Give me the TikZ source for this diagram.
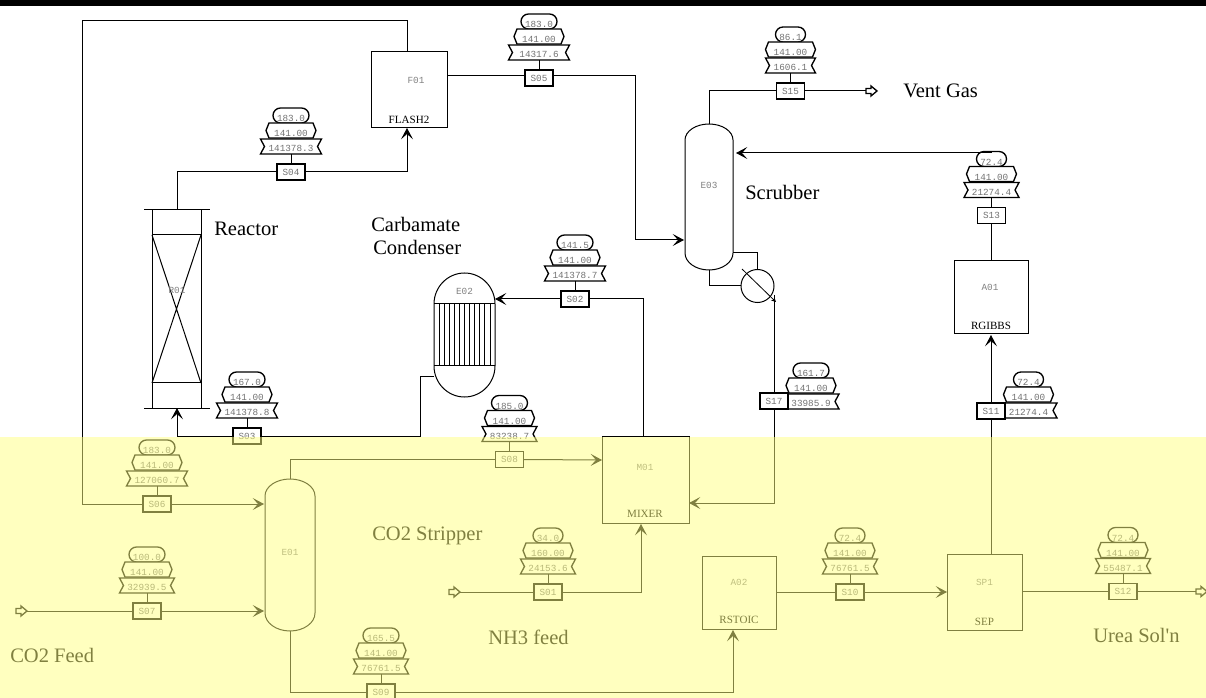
\documentclass[tikz,border=0pt]{standalone}
\usepackage{fontspec}
\setmainfont{Liberation Serif}
\newfontfamily\tagfont{Liberation Mono}
\newfontfamily\capfont{Liberation Serif}
\usetikzlibrary{arrows.meta,calc}
\definecolor{wash}{RGB}{255,255,128}
\tikzset{
  px/.style={x=0.75pt,y=-0.75pt},
  pipe/.style={draw=black,line width=0.75pt},
  flow/.style={pipe,-{Stealth[length=8.5pt,width=9pt,inset=4pt]}},
  eqbox/.style={draw=black,line width=0.75pt,fill=white,inner sep=0pt,outer sep=0pt,rectangle},
  streambox/.style={draw=black,line width=1.1pt,fill=white,inner sep=0pt,outer sep=0pt,rectangle,
     minimum width=21pt,minimum height=12pt,font=\tagfont\fontsize{7}{8}\selectfont,text=black!55},
  tagshape/.style={draw=black,line width=1pt,fill=white},
  tagtext/.style={inner sep=0pt,font=\tagfont\fontsize{7}{8}\selectfont,text=black!55},
  eqid/.style={inner sep=0pt,font=\tagfont\fontsize{7}{8}\selectfont,text=black!50},
  eqtype/.style={inner sep=0pt,font=\fontsize{8.3}{10}\selectfont},
  caption/.style={inner sep=0pt,anchor=west,font=\capfont\fontsize{15.4}{18}\selectfont},
  portarrow/.style={draw=black,line width=1pt,fill=white},
}
% name, centre x, banner bottom y, pill half width, T, P, banner half width, F
\newcommand{\stacklabels}[8]{%
  \draw[tagshape,rounded corners=5.6pt] ({#2-#4},{#3-46}) rectangle ({#2+#4},{#3-31});
  \draw[tagshape] ({#2-22},{#3-31}) -- ({#2+22},{#3-31}) -- ({#2+25},{#3-23.5}) -- ({#2+22},{#3-16})
     -- ({#2-22},{#3-16}) -- ({#2-25},{#3-23.5}) -- cycle;
  \draw[tagshape] ({#2-#7},{#3-15}) -- ({#2+#7},{#3-15}) -- ({#2+#7-4},{#3-7.5}) -- ({#2+#7},{#3})
     -- ({#2-#7},{#3}) -- ({#2-#7+4},{#3-7.5}) -- cycle;
  \node[tagtext] (#1T) at (#2,{#3-35.5}) {#5};
  \node[tagtext] (#1P) at (#2,{#3-20.5}) {#6};
  \node[tagtext] (#1F) at (#2,{#3-5.5}) {#8};
}
% name, x, y, label, pill hw, T, banner hw, F, P
\newcommand{\streamtag}[9]{%
  \stacklabels{#1}{#2}{#3-18}{#5}{#6}{#9}{#7}{#8}
  \node[streambox] (#1) at (#2,#3) {#4};
  \coordinate (#1top) at (#2,{#3-18});
  \draw[pipe] (#1.north) -- (#1top);
}
% name, xl, xr, top, shoulder top, shoulder bottom, bottom
\newcommand{\vessel}[7]{%
  \draw[line width=0.75pt,fill=white] (#2,#5)
    .. controls (#2,{#5-0.55*(#5-#4)}) and ({#2+0.45*(#3-#2)/2},#4) .. ({(#2+#3)/2},#4)
    .. controls ({#3-0.45*(#3-#2)/2},#4) and (#3,{#5-0.55*(#5-#4)}) .. (#3,#5)
    -- (#3,#6)
    .. controls (#3,{#6+0.55*(#7-#6)}) and ({#3-0.45*(#3-#2)/2},#7) .. ({(#2+#3)/2},#7)
    .. controls ({#2+0.45*(#3-#2)/2},#7) and (#2,{#6+0.55*(#7-#6)}) .. (#2,#6) -- cycle;
  \coordinate (#1top) at ({(#2+#3)/2},#4);
  \coordinate (#1bot) at ({(#2+#3)/2},#7);
}
% tail x, y
\newcommand{\portmark}[2]{%
  \draw[portarrow] (#1,{#2-2.5}) -- ({#1+5},{#2-2.5}) -- ({#1+5},{#2-5}) -- ({#1+11},#2)
     -- ({#1+5},{#2+5}) -- ({#1+5},{#2+2.5}) -- (#1,{#2+2.5}) -- cycle;
}
\begin{document}
\begin{tikzpicture}[px]
\useasboundingbox (0,0) rectangle (1206,698);
\clip (0,0) rectangle (1206,698);
\fill[white] (0,0) rectangle (1206,698);
\fill[black] (0,0) rectangle (1206,6);

% ---- equipment boxes
\node[eqbox,minimum width=57pt,minimum height=57pt] (f01) at (409,90) {};
\node[eqid] (f01id) at (416,80) {F01};
\node[eqtype] (f01ty) at (409,119.5) {FLASH2};

\node[eqbox,minimum width=55.5pt,minimum height=54.75pt] (a01) at (991,297.5) {};
\node[eqid] (a01id) at (990,287) {A01};
\node[eqtype] (a01ty) at (991,326) {RGIBBS};

\node[eqbox,minimum width=65.25pt,minimum height=65.25pt] (m01) at (645.5,479.5) {};
\node[eqid] (m01id) at (645,467) {M01};
\node[eqtype] (m01ty) at (645,514) {MIXER};

\node[eqbox,minimum width=55.5pt,minimum height=54.75pt] (a02) at (739,592.5) {};
\node[eqid] (a02id) at (739,582) {A02};
\node[eqtype] (a02ty) at (739,620) {RSTOIC};

\node[eqbox,minimum width=56.25pt,minimum height=57pt] (sp1) at (984.5,592) {};
\node[eqid] (sp1id) at (984.5,582) {SP1};
\node[eqtype] (sp1ty) at (984.5,622) {SEP};

% ---- reactor
\draw[line width=0.75pt] (152,210) rectangle (201,408);
\draw[line width=0.75pt] (144,210) -- (210,210) (144,408) -- (210,408);
\draw[line width=0.75pt] (152,235) rectangle (201,383);
\draw[line width=0.75pt] (152,235) -- (201,383) (201,235) -- (152,383);
\coordinate (r01top) at (177,210);
\coordinate (r01bot) at (177,408);
\node[eqid] (r01id) at (177,290) {R01};

% ---- columns
\vessel{e03}{685}{733}{124}{140}{253}{270}
\node[eqid] (e03id) at (709,185) {E03};
\vessel{e01}{265}{315}{479}{496}{613}{631}
\node[eqid] (e01id) at (290,552) {E01};

% ---- condenser
\vessel{e02}{434}{495}{273}{304}{366}{397}
\foreach \i in {1,...,11} {\draw[line width=0.6pt] ({434+\i*61/12},304) -- ({434+\i*61/12},366);}
\draw[line width=0.75pt] (434,304) -- (495,304) (434,366) -- (495,366);
\node[eqid] (e02id) at (464.5,291) {E02};

% ---- reboiler
\node[draw=black,line width=0.75pt,fill=white,circle,minimum size=24.75pt,inner sep=0pt,outer sep=0pt] (hx) at (757.5,286) {};

% ---- stream tags
\streamtag{s04}{291}{172}{S04}{18}{183.0}{30.5}{141378.3}{141.00}
\streamtag{s05}{539}{78}{S05}{18}{183.0}{30.5}{14317.6}{141.00}
\streamtag{s15}{790.5}{91}{S15}{15}{86.1}{25}{1606.1}{141.00}
\streamtag{s13}{991.5}{215.5}{S13}{15}{72.4}{27.5}{21274.4}{141.00}
\streamtag{s02}{575}{299}{S02}{18}{141.5}{30.5}{141378.7}{141.00}
\streamtag{s03}{247}{436}{S03}{18}{167.0}{30.5}{141378.8}{141.00}
\streamtag{s08}{509.5}{459.5}{S08}{18}{185.0}{27.5}{83238.7}{141.00}
\streamtag{s06}{157}{504}{S06}{18}{183.0}{30.5}{127060.7}{141.00}
\streamtag{s07}{147}{611}{S07}{18}{100.0}{27.5}{32939.5}{141.00}
\streamtag{s09}{381}{692}{S09}{18}{165.5}{27.5}{76761.5}{141.00}
\streamtag{s01}{548}{592}{S01}{15}{34.0}{27.5}{24153.6}{160.00}
\streamtag{s10}{850}{592}{S10}{15}{72.4}{27.5}{76761.5}{141.00}
\streamtag{s12}{1123}{591.5}{S12}{15}{72.4}{27.5}{55487.1}{141.00}
\stacklabels{s11}{1028.5}{418}{15}{72.4}{141.00}{28.5}{21274.4}
\node[streambox] (s11) at (991,411) {S11};
\stacklabels{s17}{811}{409}{18}{161.7}{141.00}{28}{33985.9}
\node[streambox] (s17) at (774,401) {S17};

% ---- port markers
\portmark{866}{91}
\coordinate (ventout) at (866,91);
\portmark{16}{611}
\coordinate (co2in) at (27,611);
\portmark{449}{592}
\coordinate (nh3in) at (460,592);
\portmark{1196}{591.5}
\coordinate (ureaout) at (1196,591.5);

% ---- named connection points
\coordinate (f01n) at (407,52);
\coordinate (f01s) at (407,128);
\coordinate (f01e) at (447,76);
\coordinate (bendtop) at (82,21);
\coordinate (e03w) at (684,240);
\coordinate (e03e) at (736,153);
\coordinate (e03se) at (733,253);
\coordinate (hxtop) at (757.5,270);
\coordinate (hxleft) at (741,286);
\coordinate (hxright) at (774,295);
\coordinate (e02w) at (434,377);
\coordinate (e02e) at (495,299);
\coordinate (m01n) at (643,436);
\coordinate (m01w) at (602,460);
\coordinate (m01s) at (641,524);
\coordinate (m01e) at (689,503);
\coordinate (e01nw) at (264,504);
\coordinate (e01sw) at (264,611);
\coordinate (a02s) at (733,630);
\coordinate (a02e) at (776,592);
\coordinate (sp1w) at (947,592);
\coordinate (sp1n) at (991,554);
\coordinate (sp1e) at (1022,591.5);
\coordinate (a01s) at (991,335);
\coordinate (a01n) at (991.5,261);
\coordinate (s13pill) at (991.5,153);
\coordinate (rise) at (420,436);

% ---- connectors
\draw[pipe] (f01n) |- (bendtop) |- (s06.west);
\draw[flow] (s06.east) -- (e01nw);
\draw[pipe] (r01top) |- (s04.west);
\draw[flow] (s04.east) -| (f01s);
\draw[pipe] (f01e) -- (f01e -| s05.west);
\draw[flow] (f01e -| s05.east) -| ($(e03w)+(-49,0)$) -- (e03w);
\draw[pipe] (e03top) |- (s15.west);
\draw[pipe] (s15.east) -- (ventout);
\draw[pipe] (a01n) -- (s13.south);
\draw[flow] (s13pill) -- (e03e);
\draw[pipe] (e03se) -| (hxtop);
\draw[pipe] (e03bot) |- (hxleft);
\draw[pipe] (hxright) -- (s17.north -| hxright);
\draw[flow] (s17.south) |- (m01e);
\draw[-{Stealth[length=3.5pt,width=3.5pt]},line width=0.6pt] ($(hx)+(-15.5,-17)$) -- ($(hx)+(18.5,16)$);
\draw[pipe] (m01n) |- (s02.east);
\draw[flow] (s02.west) -- (e02e);
\draw[pipe] (e02w) -| (rise) -- (s03.east);
\draw[flow] (s03.west) -| (r01bot);
\draw[pipe] (e01top) |- (s08.west);
\draw[flow] (s08.east) -- (m01w);
\draw[pipe] (co2in) -- (s07.west);
\draw[flow] (s07.east) -- (e01sw);
\draw[pipe] (nh3in) -- (s01.west);
\draw[flow] (s01.east) -| (m01s);
\draw[pipe] (e01bot) |- (s09.west);
\draw[flow] (s09.east) -| (a02s);
\draw[pipe] (a02e) -- (s10.west);
\draw[flow] (s10.east) -- (sp1w);
\draw[pipe] (sp1n) -- (s11.south);
\draw[flow] (s11.north) -- (a01s);
\draw[pipe] (sp1e) -- (s12.west);
\draw[pipe] (s12.east) -- (ureaout);

% ---- captions
\node[caption] (capreactor) at (214,229) {Reactor};
\node[caption] (capcarb) at (371,224) {Carbamate};
\node[caption] (capcond) at (373,247) {Condenser};
\node[caption] (capscrub) at (745,192) {Scrubber};
\node[caption] (capvent) at (903,91) {Vent Gas};
\node[caption] (capstrip) at (372,536) {CO2 Stripper};
\node[caption] (capnh3) at (488,637) {NH3 feed};
\node[caption] (capco2) at (10,655) {CO2 Feed};
\node[caption] (capurea) at (1093,635) {Urea Sol'n};

% ---- translucent wash over the lower part
\fill[wash,fill opacity=0.5] (0,437) rectangle (1206,698);
\end{tikzpicture}
\end{document}
